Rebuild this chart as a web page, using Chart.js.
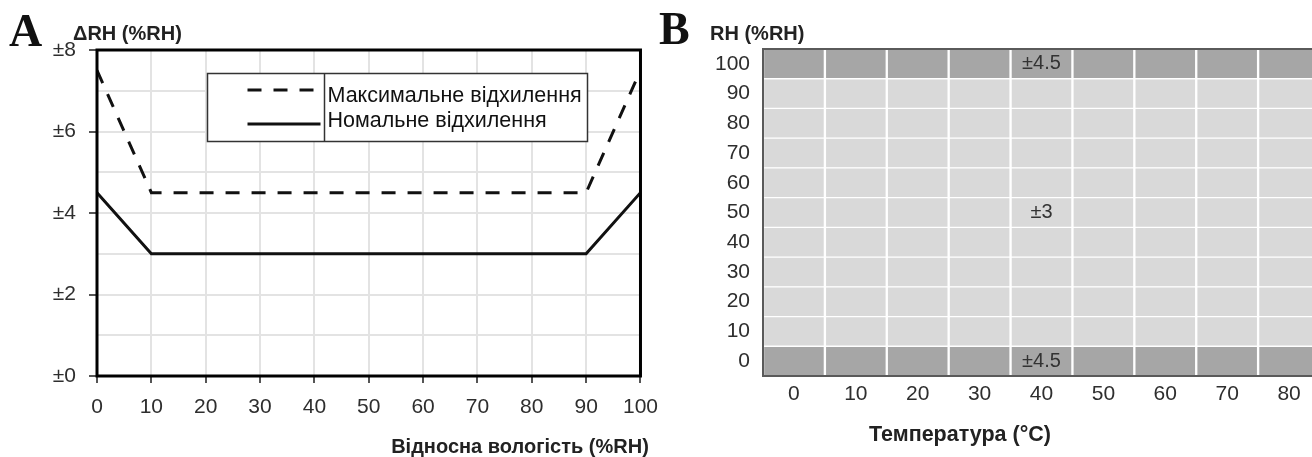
<!DOCTYPE html>
<html><head><meta charset="utf-8">
<script src="https://cdn.jsdelivr.net/npm/chart.js@4.4.0/dist/chart.umd.min.js"></script>
<style>
html,body{margin:0;padding:0;background:#fff;overflow:hidden;width:1312px;height:457px;}
#ca{position:absolute;left:0;top:0;}
#cb{position:absolute;left:660px;top:0;}
.lt{position:absolute;font-family:'Liberation Serif','Times New Roman',serif;font-weight:bold;font-size:46px;line-height:1;color:#111;}
</style></head><body>
<canvas id="ca" width="670" height="457"></canvas>
<canvas id="cb" width="680" height="457"></canvas>
<div class="lt" style="left:9px;top:8px">A</div>
<div class="lt" style="left:659px;top:6px">B</div>
<script>
// ---------- Panel A data ----------
const humidity = [0, 10, 90, 100];
const maxDeviation = [7.5, 4.5, 4.5, 7.5];
const typDeviation = [4.5, 3, 3, 4.5];
const seriesLabels = ['Максимальне відхилення', 'Номальне відхилення'];
const titleA_y = 'ΔRH (%RH)';
const titleA_x = 'Відносна вологість (%RH)';

// ---------- Panel B data ----------
const temperatures = [0, 10, 20, 30, 40, 50, 60, 70, 80];
const rhLevels = [0, 10, 20, 30, 40, 50, 60, 70, 80, 90, 100];
const rhAccuracy = [4.5, 3, 3, 3, 3, 3, 3, 3, 3, 3, 4.5];
const cellLabels = [
  {t: 40, rh: 100, text: '±4.5'},
  {t: 40, rh: 50, text: '±3'},
  {t: 40, rh: 0, text: '±4.5'}
];
const titleB_y = 'RH (%RH)';
const titleB_x = 'Температура (°C)';

const TFONT = "'Liberation Sans',Arial,sans-serif";
const SANS = "'Liberation Sans',Arial,sans-serif";
const TICK = '#2e2e2e';

// ---------- Chart A ----------
const pluginA = {
  id: 'frameA',
  afterDraw(chart) {
    const {ctx, chartArea: a} = chart;
    ctx.save();
    ctx.strokeStyle = '#000';
    ctx.lineWidth = 3;
    ctx.strokeRect(a.left, a.top, a.right - a.left, a.bottom - a.top);
    // legend box
    const bx = a.left + 110.5, by = a.top + 23.5, bw = 380, bh = 68;
    ctx.fillStyle = '#fff';
    ctx.fillRect(bx, by, bw, bh);
    ctx.lineWidth = 1.5;
    ctx.strokeStyle = '#333';
    ctx.strokeRect(bx, by, bw, bh);
    const dx = bx + 117;
    ctx.beginPath(); ctx.moveTo(dx, by); ctx.lineTo(dx, by + bh); ctx.stroke();
    chart.data.datasets.forEach((ds, i) => {
      const ly = by + 16.5 + i * 34;
      ctx.lineWidth = 3;
      ctx.strokeStyle = '#111';
      ctx.setLineDash(ds.borderDash || []);
      ctx.beginPath(); ctx.moveTo(bx + 40, ly); ctx.lineTo(dx - 4, ly); ctx.stroke();
      ctx.setLineDash([]);
      ctx.fillStyle = '#111';
      ctx.font = '21.5px ' + SANS;
      ctx.textBaseline = 'middle';
      ctx.textAlign = 'left';
      ctx.fillText(ds.label, dx + 3, by + 23 + i * 25);
    });
    // titles
    ctx.fillStyle = '#222';
    ctx.font = 'bold 20px ' + SANS;
    ctx.textBaseline = 'middle';
    ctx.textAlign = 'left';
    ctx.fillText(titleA_y, 73, 34);
    ctx.textAlign = 'center';
    ctx.fillText(titleA_x, 520, 447);
    ctx.restore();
  }
};

new Chart(document.getElementById('ca'), {
  type: 'line',
  data: {
    datasets: [
      {label: seriesLabels[0], data: humidity.map((h, i) => ({x: h, y: maxDeviation[i]})),
       borderColor: '#111', borderWidth: 3, borderDash: [14, 12], pointRadius: 0, fill: false, tension: 0},
      {label: seriesLabels[1], data: humidity.map((h, i) => ({x: h, y: typDeviation[i]})),
       borderColor: '#111', borderWidth: 3, pointRadius: 0, fill: false, tension: 0}
    ]
  },
  options: {
    responsive: false, animation: false, devicePixelRatio: 1,
    layout: {padding: {top: 50, right: 20, left: 0, bottom: 0}},
    plugins: {legend: {display: false}, tooltip: {enabled: false}},
    scales: {
      x: {
        type: 'linear', min: 0, max: 100,
        afterFit(s) { s.height = 81; },
        border: {display: false},
        grid: {color: '#e3e3e3', lineWidth: 2, tickLength: 7, tickColor: '#555', tickWidth: 2},
        ticks: {stepSize: 10, color: TICK, padding: 12, font: {family: TFONT, size: 21}}
      },
      y: {
        min: 0, max: 8,
        afterFit(s) { s.width = 97; },
        border: {display: false},
        grid: {color: '#e3e3e3', lineWidth: 2, tickLength: 8, tickWidth: 2,
               tickColor: c => (c.tick && c.tick.value % 2 === 0) ? '#555' : 'rgba(0,0,0,0)'},
        ticks: {stepSize: 1, color: TICK, padding: 13, font: {family: TFONT, size: 21},
                callback: v => (v % 2 === 0 ? '±' + v : '')}
      }
    }
  },
  plugins: [pluginA]
});

// ---------- Chart B ----------
const pluginB = {
  id: 'frameB',
  afterDatasetsDraw(chart) {
    const {ctx, chartArea: a, scales: {x, y}} = chart;
    ctx.save();
    ctx.strokeStyle = '#5a5a5a';
    ctx.lineWidth = 2;
    ctx.beginPath();
    ctx.moveTo(a.right + 20, a.top); ctx.lineTo(a.left, a.top);
    ctx.lineTo(a.left, a.bottom); ctx.lineTo(a.right + 20, a.bottom);
    ctx.stroke();
    ctx.fillStyle = '#333';
    ctx.font = '20px ' + TFONT;
    ctx.textAlign = 'center';
    ctx.textBaseline = 'middle';
    cellLabels.forEach(l => {
      ctx.fillText(l.text, x.getPixelForValue(temperatures.indexOf(l.t)), y.getPixelForValue(l.rh));
    });
    ctx.restore();
  },
  afterDraw(chart) {
    const {ctx} = chart;
    ctx.save();
    ctx.fillStyle = '#222';
    ctx.font = 'bold 20px ' + SANS;
    ctx.textBaseline = 'middle';
    ctx.textAlign = 'left';
    ctx.fillText(titleB_y, 50, 34);
    ctx.textAlign = 'center';
    ctx.font = 'bold 21.5px ' + SANS;
    ctx.fillText(titleB_x, 300, 435);
    ctx.restore();
  }
};

new Chart(document.getElementById('cb'), {
  type: 'bar',
  data: {
    labels: temperatures.map(String),
    datasets: rhLevels.map((rh, i) => ({
      label: 'RH ' + rh,
      data: temperatures.map(() => [rh - 5, rh + 5]),
      backgroundColor: rhAccuracy[i] > 3 ? '#a6a6a6' : '#d9d9d9',
      borderColor: '#ffffff',
      borderWidth: {left: 1.5, right: 1.5, top: 1, bottom: 1},
      borderSkipped: false,
      grouped: false,
      barPercentage: 1, categoryPercentage: 1
    }))
  },
  options: {
    responsive: false, animation: false, devicePixelRatio: 1,
    layout: {padding: {top: 49, right: 20, left: 0, bottom: 0}},
    plugins: {legend: {display: false}, tooltip: {enabled: false}},
    scales: {
      x: {
        afterFit(s) { s.height = 81; },
        border: {display: false},
        grid: {display: false, drawTicks: false},
        ticks: {color: TICK, padding: 6, font: {family: TFONT, size: 21}}
      },
      y: {
        min: -5, max: 105,
        afterFit(s) { s.width = 103; },
        afterBuildTicks(s) { s.ticks = rhLevels.map(v => ({value: v})); },
        border: {display: false},
        grid: {display: false, drawTicks: false},
        ticks: {color: TICK, padding: 13, font: {family: TFONT, size: 21}}
      }
    }
  },
  plugins: [pluginB]
});
</script>
</body></html>
